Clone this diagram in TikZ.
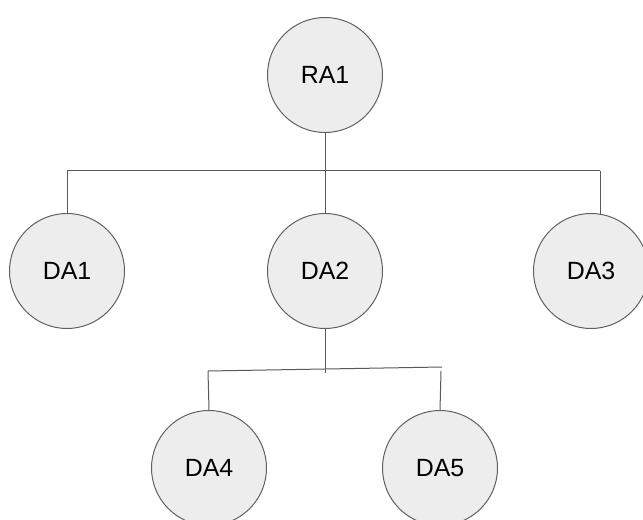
\documentclass[tikz,border=0pt]{standalone}
\usepackage{fontspec}
\setmainfont{Liberation Sans}
\begin{document}
\begin{tikzpicture}[x=1bp,y=-1bp,
  agent/.style={circle,draw=black!62,fill=black!7,line width=1bp,
    minimum size=115bp,inner sep=0pt,font=\fontsize{25}{29}\selectfont},
  wire/.style={draw=black!65,line width=1bp}]
\useasboundingbox (0,0) rectangle (643,520);
\begin{scope}
\clip (0,0) rectangle (643,520);
% agents
\node[agent] (ra1) at (325,75)  {RA1};
\node[agent] (da1) at (67,271)  {DA1};
\node[agent] (da2) at (325,271) {DA2};
\node[agent] (da3) at (591,271) {DA3};
\node[agent] (da4) at (209,468) {DA4};
\node[agent] (da5) at (440,468) {DA5};
% bus corners
\coordinate (b1l) at (67,171);
\coordinate (b1r) at (600,171);
\coordinate (b1d3) at (600,214);
\coordinate (b2l) at (208,371);
\coordinate (b2r) at (442,367);
\coordinate (b2m) at (325,373);
\coordinate (b2d5) at (441,371);
% upper level
\draw[wire] (ra1.south) -- (da2.north);
\draw[wire] (b1l) -- (b1r);
\draw[wire] (b1l) -- (da1.north);
\draw[wire] (b1r) -- (b1d3);
% lower level
\draw[wire] (da2.south) -- (b2m);
\draw[wire] (b2l) -- (b2r);
\draw[wire] (b2l) -- (da4.north);
\draw[wire] (b2d5) -- (da5.north);
\end{scope}
\end{tikzpicture}
\end{document}
